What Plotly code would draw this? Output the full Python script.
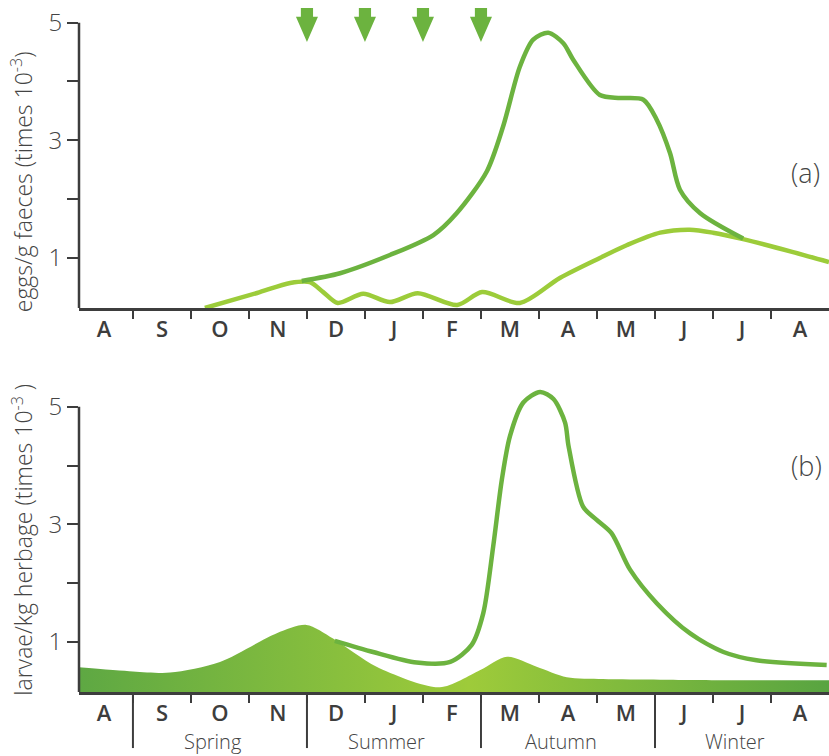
import plotly.graph_objects as go

# ---------------- data ----------------
MONTHS = ["A", "S", "O", "N", "D", "J", "F", "M", "A", "M", "J", "J", "A"]
MONTH_POS = list(range(13))
MONTH_BOUNDS = [0.5, 1.5, 2.5, 3.5, 4.5, 5.5, 6.5, 7.5, 8.5, 9.5, 10.5, 11.5]
SEASONS = ["Spring", "Summer", "Autumn", "Winter"]
SEASON_CENTERS = [2, 5, 8, 11]
SEASON_BOUNDS = [0.5, 3.5, 6.5, 9.5]
ARROW_X = [3.5, 4.5, 5.5, 6.5]
Y_LABELLED_TICKS = [1, 3, 5]
Y_MINOR_TICKS = [2, 4]

# panel (a) - light green egg count curve
EGGS_LIGHT_X = [1.74, 2.64, 3.21, 3.55, 3.78, 4.03, 4.47, 4.93, 5.41, 6.09, 6.52, 7.17,
                7.86, 8.55, 9.02, 9.59, 10.10, 10.5, 11.02, 11.88, 12.5]
EGGS_LIGHT_Y = [0.15, 0.405, 0.575, 0.59, 0.42, 0.235, 0.39, 0.25, 0.40, 0.20, 0.42, 0.235,
                0.66, 1.0, 1.22, 1.43, 1.48, 1.43, 1.32, 1.10, 0.93]
# panel (a) - dark green egg count curve
EGGS_DARK_X = [3.41, 4.07, 4.93, 5.68, 6.08, 6.60, 6.88, 7.17, 7.40, 7.66, 7.92, 8.09,
               8.55, 8.90, 9.30, 9.53, 9.76, 9.93, 10.28, 11.02]
EGGS_DARK_Y = [0.61, 0.74, 1.05, 1.39, 1.76, 2.47, 3.23, 4.25, 4.71, 4.83, 4.65, 4.37,
               3.77, 3.72, 3.69, 3.35, 2.78, 2.16, 1.76, 1.33]

# panel (b) - filled larvae area
LARVAE_AREA_X = [-0.43, 0.5, 1.14, 2.0, 2.98, 3.49, 3.95, 4.70, 5.79, 6.48, 6.95, 7.46,
                 7.98, 8.6, 9.59, 11.0, 12.5]
LARVAE_AREA_Y = [0.57, 0.50, 0.48, 0.66, 1.15, 1.29, 1.06, 0.58, 0.23, 0.52, 0.75, 0.58,
                 0.40, 0.37, 0.36, 0.35, 0.35]
# panel (b) - dark larvae curve
LARVAE_DARK_X = [3.98, 4.64, 5.39, 5.97, 6.34, 6.54, 6.71, 6.86, 7.00, 7.23, 7.52, 7.75,
                 7.95, 8.01, 8.26, 8.49, 8.75, 9.07, 9.53, 10.10, 10.68, 11.25, 12.46]
LARVAE_DARK_Y = [1.02, 0.83, 0.65, 0.66, 0.95, 1.49, 2.62, 3.76, 4.50, 5.07, 5.25, 5.13,
                 4.73, 4.33, 3.30, 3.08, 2.85, 2.23, 1.66, 1.15, 0.83, 0.69, 0.61]

# ---------------- style ----------------
FONT = "Open Sans"
AXIS = "#3d3d3d"
TEXT = "#444444"
DARK = "#6cb33f"
LIGHT = "#9ccc3a"

fig = go.Figure()

fig.add_trace(go.Scatter(x=LARVAE_AREA_X, y=LARVAE_AREA_Y, xaxis="x2", yaxis="y2",
                         mode="lines", line=dict(width=0, shape="spline", smoothing=0.8),
                         fill="tozeroy",
                         fillgradient=dict(type="horizontal",
                                           colorscale=[[0, "#5ea843"], [0.52, "#9ecb3a"], [1, "#58a441"]]),
                         hoverinfo="skip", showlegend=False))
fig.add_trace(go.Scatter(x=LARVAE_DARK_X, y=LARVAE_DARK_Y, xaxis="x2", yaxis="y2",
                         mode="lines", line=dict(color=DARK, width=4.5, shape="spline", smoothing=0.8),
                         showlegend=False))
fig.add_trace(go.Scatter(x=EGGS_LIGHT_X, y=EGGS_LIGHT_Y, mode="lines",
                         line=dict(color=LIGHT, width=4.5, shape="spline", smoothing=0.8),
                         showlegend=False))
fig.add_trace(go.Scatter(x=EGGS_DARK_X, y=EGGS_DARK_Y, mode="lines",
                         line=dict(color=DARK, width=4.5, shape="spline", smoothing=0.8),
                         showlegend=False))

def xaxis_cfg(anchor):
    return dict(anchor=anchor, range=[-0.43, 12.5], showline=True, linecolor=AXIS, linewidth=2.5,
                tickmode="array", tickvals=MONTH_POS, ticktext=MONTHS, ticks="",
                tickfont=dict(family=FONT, size=22, color=AXIS, weight=600),
                minor=dict(tickmode="array", tickvals=MONTH_BOUNDS, ticks="outside", ticklen=8,
                           tickwidth=2, tickcolor=AXIS, showgrid=False),
                showgrid=False, zeroline=False, fixedrange=True)

def yaxis_cfg(anchor, domain):
    return dict(anchor=anchor, domain=domain, range=[0.15, 5.3], tickmode="array",
                tickvals=Y_LABELLED_TICKS, ticks="outside", ticklen=11, tickwidth=2,
                tickcolor=AXIS, showline=False, showgrid=False, zeroline=False,
                minor=dict(tickmode="array", tickvals=Y_MINOR_TICKS, ticks="outside", ticklen=11,
                           tickwidth=2, tickcolor=AXIS, showgrid=False),
                tickfont=dict(family=FONT, size=24, color=TEXT, weight=300), fixedrange=True)

shapes = []
# y axis lines ending at 5
for xr, yr in (("x domain", "y"), ("x2 domain", "y2")):
    shapes.append(dict(type="line", xref=xr, yref=yr, x0=0, x1=0, y0=0.15, y1=5,
                       line=dict(color=AXIS, width=2.5)))
# long season ticks
for b in SEASON_BOUNDS:
    shapes.append(dict(type="line", xref="x2", yref="y2 domain", x0=b, x1=b, y0=0, y1=-0.185,
                       line=dict(color=AXIS, width=2)))
# arrows (treatment times)
sw, hw, yt, yb, tip = 0.105, 0.19, 5.25, 5.10, 4.67
for ax in ARROW_X:
    path = (f"M {ax-sw},{yt} L {ax+sw},{yt} L {ax+sw},{yb} L {ax+hw},{yb} "
            f"L {ax},{tip} L {ax-hw},{yb} L {ax-sw},{yb} Z")
    shapes.append(dict(type="path", xref="x", yref="y", path=path,
                       fillcolor=DARK, line=dict(width=0)))

annotations = [
    dict(text="eggs/g faeces (times 10<sup>-3</sup>)", textangle=-90, xref="paper", x=-0.075,
         xanchor="center", yref="y domain", y=0, yanchor="bottom", yshift=-6, showarrow=False,
         font=dict(family=FONT, size=23, color=TEXT, weight=300)),
    dict(text="larvae/kg herbage (times 10<sup>-3</sup> )", textangle=-90, xref="paper", x=-0.075,
         xanchor="center", yref="y2 domain", y=0, yanchor="bottom", yshift=-6, showarrow=False,
         font=dict(family=FONT, size=23, color=TEXT, weight=300)),
    dict(text="(a)", xref="x", yref="y", x=12.09, y=2.46, showarrow=False,
         font=dict(family=FONT, size=27, color=TEXT, weight=300)),
    dict(text="(b)", xref="x2", yref="y2", x=12.12, y=4.0, showarrow=False,
         font=dict(family=FONT, size=27, color=TEXT, weight=300)),
]
for s, c in zip(SEASONS, SEASON_CENTERS):
    annotations.append(dict(text=s, xref="x2", x=c, xshift=-7, yref="y2 domain", y=-0.165,
                            yanchor="middle", showarrow=False,
                            font=dict(family=FONT, size=20, color=TEXT, weight=300)))

fig.update_layout(
    width=829, height=756,
    margin=dict(l=79, r=0, t=5, b=64),
    paper_bgcolor="white", plot_bgcolor="white",
    xaxis=xaxis_cfg("y"), xaxis2=xaxis_cfg("y2"),
    yaxis=yaxis_cfg("x", [0.559, 1.0]), yaxis2=yaxis_cfg("x2", [0.0, 0.441]),
    shapes=shapes, annotations=annotations, showlegend=False,
    font=dict(family=FONT, color=TEXT),
)

fig.write_html("out.html", config={"displayModeBar": False},
               post_script="document.body.style.margin='0';document.body.style.overflow='hidden';")
